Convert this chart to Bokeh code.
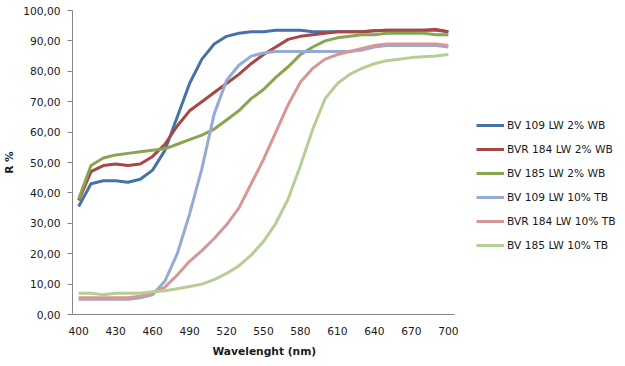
from bokeh.plotting import figure
from bokeh.models import Legend, LegendItem, FixedTicker, CustomJSTickFormatter, Range1d, Title
from bokeh.embed import file_html
from bokeh.resources import INLINE

wavelength = list(range(400, 701, 10))

bv109_2wb = [35.5, 43, 44, 44, 43.5, 44.5, 47.5, 54, 65, 76, 84, 89, 91.5, 92.5, 93, 93,
             93.5, 93.5, 93.5, 93, 93, 93, 93, 93, 93.3, 93.5, 93.5, 93.5, 93.5, 93.5, 93]
bvr184_2wb = [37.5, 47, 49, 49.5, 49, 49.5, 52, 56, 62, 67, 70, 73, 76, 79, 82.5, 85.5,
              88, 90.5, 91.5, 92, 92.5, 93, 93, 93, 93.3, 93.5, 93.5, 93.5, 93.5, 93.8, 93]
bv185_2wb = [38, 49, 51.5, 52.5, 53, 53.5, 54, 54.5, 56, 57.5, 59, 61, 64, 67, 71, 74,
             78, 81.5, 85.5, 88, 90, 91, 91.5, 92, 92, 92.5, 92.5, 92.5, 92.5, 92, 92]
bv109_10tb = [5, 5, 5, 5, 5, 5.5, 6.5, 11, 20, 33, 48, 66, 77, 82, 85, 86,
              86.5, 86.5, 86.5, 86.5, 86.5, 86.5, 86.5, 87, 88, 88.5, 88.5, 88.5, 88.5, 88.5, 88]
bvr184_10tb = [5.5, 5.5, 5.5, 5.5, 5.5, 6, 7, 9, 13, 17.5, 21, 25, 29.5, 35, 43, 51,
               60, 69, 76.5, 81, 84, 85.5, 86.5, 87.5, 88.5, 89, 89, 89, 89, 89, 88.5]
bv185_10tb = [7, 7, 6.5, 7, 7, 7, 7.5, 7.8, 8.5, 9.2, 10, 11.5, 13.5, 16, 19.5, 24,
              30, 38, 49, 61, 71, 76, 79, 81, 82.5, 83.5, 84, 84.5, 84.8, 85, 85.5]

series_names = ["BV 109 LW 2% WB", "BVR 184 LW 2% WB", "BV 185 LW 2% WB",
                "BV 109 LW 10% TB", "BVR 184 LW 10% TB", "BV 185 LW 10% TB"]
series_values = [bv109_2wb, bvr184_2wb, bv185_2wb, bv109_10tb, bvr184_10tb, bv185_10tb]
colors = ["#4572A7", "#AA4643", "#89A54E", "#93ACD6", "#D99694", "#B6CE92"]

x_ticks = list(range(400, 701, 30))
y_ticks = list(range(0, 101, 10))

FONT = "DejaVu Sans"
FS = "8pt"
TXT = "#1a1a1a"

# axis spans 395..705 over 382 px; frame extended to the right to host the legend
X0, X1 = 395, 705
px_per_unit = 382 / (X1 - X0)
x_end = X0 + 553 / px_per_unit

p = figure(width=625, height=366, output_backend="svg", toolbar_location=None,
           x_range=Range1d(X0, x_end), y_range=Range1d(0, 100),
           min_border_left=72, min_border_right=0, min_border_top=10, min_border_bottom=52)
p.outline_line_color = None
p.xgrid.visible = False
p.ygrid.visible = False
p.background_fill_color = "white"

items = []
for name, vals, c in zip(series_names, series_values, colors):
    r = p.line(wavelength, vals, line_color=c, line_width=3)
    items.append(LegendItem(label=name, renderers=[r]))

legend = Legend(items=items, location=(404, 59), padding=0, margin=0, spacing=4,
                glyph_width=28, glyph_height=20, label_height=20, label_standoff=3,
                border_line_color=None, background_fill_alpha=0,
                label_text_font=FONT, label_text_font_size=FS, label_text_color=TXT)
p.add_layout(legend, "center")

for ax in (p.xaxis, p.yaxis):
    ax.axis_line_color = "#868686"
    ax.major_tick_line_color = "#868686"
    ax.minor_tick_line_color = None
    ax.major_label_text_font = FONT
    ax.major_label_text_font_size = FS
    ax.major_label_text_color = TXT
    ax.axis_label_text_font = FONT
    ax.axis_label_text_font_size = FS
    ax.axis_label_text_font_style = "bold"
    ax.axis_label_text_color = TXT

p.xaxis.bounds = (X0, X1)
p.xaxis.ticker = FixedTicker(ticks=x_ticks)
p.xaxis.major_tick_out = 0
p.xaxis.major_tick_in = 0
p.xaxis.major_label_standoff = 12

x_title = Title(text="Wavelenght (nm)", align="left", offset=140, standoff=10,
                text_font=FONT, text_font_size=FS, text_font_style="bold",
                text_color=TXT)
p.add_layout(x_title, "below")

p.yaxis.ticker = FixedTicker(ticks=y_ticks)
p.yaxis.major_tick_out = 5
p.yaxis.major_tick_in = 0
p.yaxis.major_label_standoff = 7
p.yaxis.formatter = CustomJSTickFormatter(code="return tick.toFixed(2).replace('.', ',');")
p.yaxis.axis_label = "R %"
p.yaxis.axis_label_standoff = 4

open("out.html", "w").write(file_html(p, INLINE))
